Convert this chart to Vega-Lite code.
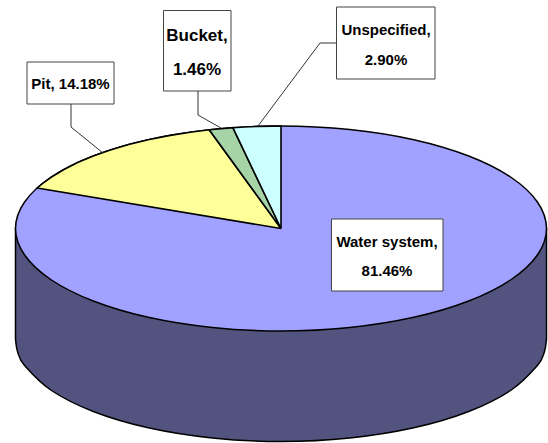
{"$schema":"https://vega.github.io/schema/vega-lite/v6.json","width":548,"height":443,"padding":0,"autosize":{"type":"none"},"background":"white","view":{"stroke":null},
"datasets":{
"side":[{"x":15.5,"y":228.5,"y2":339},{"x":17.8,"y":228.5,"y2":352.4},{"x":24.6,"y":228.5,"y2":365.5},{"x":51.1,"y":228.5,"y2":390.25},{"x":93.3,"y":228.5,"y2":411.5},{"x":148.2,"y":228.5,"y2":427.8},{"x":212.3,"y":228.5,"y2":438},{"x":281,"y":228.5,"y2":441.5},{"x":349.7,"y":228.5,"y2":438},{"x":413.8,"y":228.5,"y2":427.8},{"x":468.7,"y":228.5,"y2":411.5},{"x":510.9,"y":228.5,"y2":390.25},{"x":537.4,"y":228.5,"y2":365.5},{"x":544.2,"y":228.5,"y2":352.4},{"x":546.5,"y":228.5,"y2":339}],
"top":[{"part":"Water system","i":0,"x":281,"y":126},{"part":"Water system","i":1,"x":349.7,"y":129.5},{"part":"Water system","i":2,"x":413.8,"y":139.7},{"part":"Water system","i":3,"x":468.7,"y":156},{"part":"Water system","i":4,"x":510.9,"y":177.25},{"part":"Water system","i":5,"x":537.4,"y":202},{"part":"Water system","i":6,"x":546.5,"y":228.5},{"part":"Water system","i":7,"x":537.4,"y":255},{"part":"Water system","i":8,"x":510.9,"y":279.75},{"part":"Water system","i":9,"x":468.7,"y":301},{"part":"Water system","i":10,"x":413.8,"y":317.3},{"part":"Water system","i":11,"x":349.7,"y":327.5},{"part":"Water system","i":12,"x":281,"y":331},{"part":"Water system","i":13,"x":212.3,"y":327.5},{"part":"Water system","i":14,"x":148.2,"y":317.3},{"part":"Water system","i":15,"x":93.3,"y":301},{"part":"Water system","i":16,"x":51.1,"y":279.75},{"part":"Water system","i":17,"x":24.6,"y":255},{"part":"Water system","i":18,"x":15.5,"y":228.5},{"part":"Water system","i":19,"x":24.6,"y":202},{"part":"Water system","i":20,"x":51.1,"y":177.25},{"part":"Water system","i":21,"x":93.3,"y":156},{"part":"Water system","i":22,"x":148.2,"y":139.7},{"part":"Water system","i":23,"x":212.3,"y":129.5}],
"wedges":[{"part":"Pit","i":0,"x":281,"y":228.5},{"part":"Pit","i":1,"x":37.2,"y":188},{"part":"Pit","i":2,"x":42.4,"y":183.6},{"part":"Pit","i":3,"x":51.1,"y":177.25},{"part":"Pit","i":4,"x":63.5,"y":169.7},{"part":"Pit","i":5,"x":77.6,"y":162.6},{"part":"Pit","i":6,"x":93.3,"y":156},{"part":"Pit","i":7,"x":110.3,"y":150},{"part":"Pit","i":8,"x":128.7,"y":144.5},{"part":"Pit","i":9,"x":148.2,"y":139.7},{"part":"Pit","i":10,"x":168.8,"y":135.6},{"part":"Pit","i":11,"x":190.2,"y":132.2},{"part":"Pit","i":12,"x":209.2,"y":129.8},{"part":"Pit","i":13,"x":281,"y":228.5},
{"part":"Bucket","i":0,"x":281,"y":228.5},{"part":"Bucket","i":1,"x":209.2,"y":129.8},{"part":"Bucket","i":2,"x":221.3,"y":128.6},{"part":"Bucket","i":3,"x":232.9,"y":127.7},{"part":"Bucket","i":4,"x":281,"y":228.5},
{"part":"Unspecified","i":0,"x":281,"y":228.5},{"part":"Unspecified","i":1,"x":232.9,"y":127.7},{"part":"Unspecified","i":2,"x":244,"y":127},{"part":"Unspecified","i":3,"x":257.8,"y":126.4},{"part":"Unspecified","i":4,"x":271.7,"y":126.1},{"part":"Unspecified","i":5,"x":281,"y":126},{"part":"Unspecified","i":6,"x":281,"y":228.5}],
"leaders":[{"part":"Pit","i":0,"x":71,"y":104},{"part":"Pit","i":1,"x":71,"y":127},{"part":"Pit","i":2,"x":103,"y":153},{"part":"Bucket","i":0,"x":198,"y":91},{"part":"Bucket","i":1,"x":198,"y":115},{"part":"Bucket","i":2,"x":221,"y":128},{"part":"Unspecified","i":0,"x":336,"y":43},{"part":"Unspecified","i":1,"x":320,"y":43},{"part":"Unspecified","i":2,"x":258,"y":126}],
"boxes":[{"part":"Pit","x":27,"x2":114,"y":62,"y2":104},{"part":"Bucket","x":163.5,"x2":231,"y":10.5,"y2":91},{"part":"Unspecified","x":336.5,"x2":435,"y":7,"y2":79},{"part":"Water system","x":331.5,"x2":443,"y":219,"y2":291}],
"labels":[{"text":"Pit, 14.18%","x":70.5,"y":84},{"text":"Unspecified,","x":386,"y":30},{"text":"2.90%","x":386,"y":60},{"text":"Water system,","x":387,"y":242},{"text":"81.46%","x":387,"y":271}],
"bigLabels":[{"text":"Bucket,","x":197,"y":36},{"text":"1.46%","x":197,"y":70}]
},
"layer":[
{"data":{"name":"side"},"mark":{"type":"area","fill":"#53537f","stroke":"black","strokeWidth":1.5,"interpolate":"cardinal"},"encoding":{"x":{"field":"x","type":"quantitative","scale":{"domain":[0,548],"nice":false,"zero":false},"axis":null},"y":{"field":"y","type":"quantitative","scale":{"domain":[443,0],"nice":false,"zero":false},"axis":null},"y2":{"field":"y2"}}},
{"data":{"name":"top"},"mark":{"type":"line","stroke":"black","strokeWidth":1.5,"interpolate":"cardinal-closed"},"encoding":{"x":{"field":"x","type":"quantitative","axis":null},"y":{"field":"y","type":"quantitative","axis":null},"order":{"field":"i"},"fill":{"field":"part","type":"nominal","legend":null,"scale":{"domain":["Water system","Pit","Bucket","Unspecified"],"range":["#a1a1ff","#ffff99","#a6d4a6","#ccffff"]}}}},
{"data":{"name":"wedges"},"mark":{"type":"line","stroke":"black","strokeWidth":1.6,"strokeJoin":"miter"},"encoding":{"x":{"field":"x","type":"quantitative","axis":null},"y":{"field":"y","type":"quantitative","axis":null},"order":{"field":"i"},"fill":{"field":"part","type":"nominal","legend":null}}},
{"data":{"name":"leaders"},"mark":{"type":"line","stroke":"#333333","strokeWidth":1},"encoding":{"x":{"field":"x","type":"quantitative","axis":null},"y":{"field":"y","type":"quantitative","axis":null},"order":{"field":"i"},"detail":{"field":"part"}}},
{"data":{"name":"boxes"},"mark":{"type":"rect","fill":"white","stroke":"#444444","strokeWidth":1},"encoding":{"x":{"field":"x","type":"quantitative","axis":null},"x2":{"field":"x2"},"y":{"field":"y","type":"quantitative","axis":null},"y2":{"field":"y2"}}},
{"data":{"name":"labels"},"mark":{"type":"text","font":"Liberation Sans","fontWeight":"bold","fontSize":15,"color":"black","align":"center","baseline":"middle"},"encoding":{"x":{"field":"x","type":"quantitative","axis":null},"y":{"field":"y","type":"quantitative","axis":null},"text":{"field":"text"}}},
{"data":{"name":"bigLabels"},"mark":{"type":"text","font":"Liberation Sans","fontWeight":"bold","fontSize":17,"color":"black","align":"center","baseline":"middle"},"encoding":{"x":{"field":"x","type":"quantitative","axis":null},"y":{"field":"y","type":"quantitative","axis":null},"text":{"field":"text"}}}
]}
